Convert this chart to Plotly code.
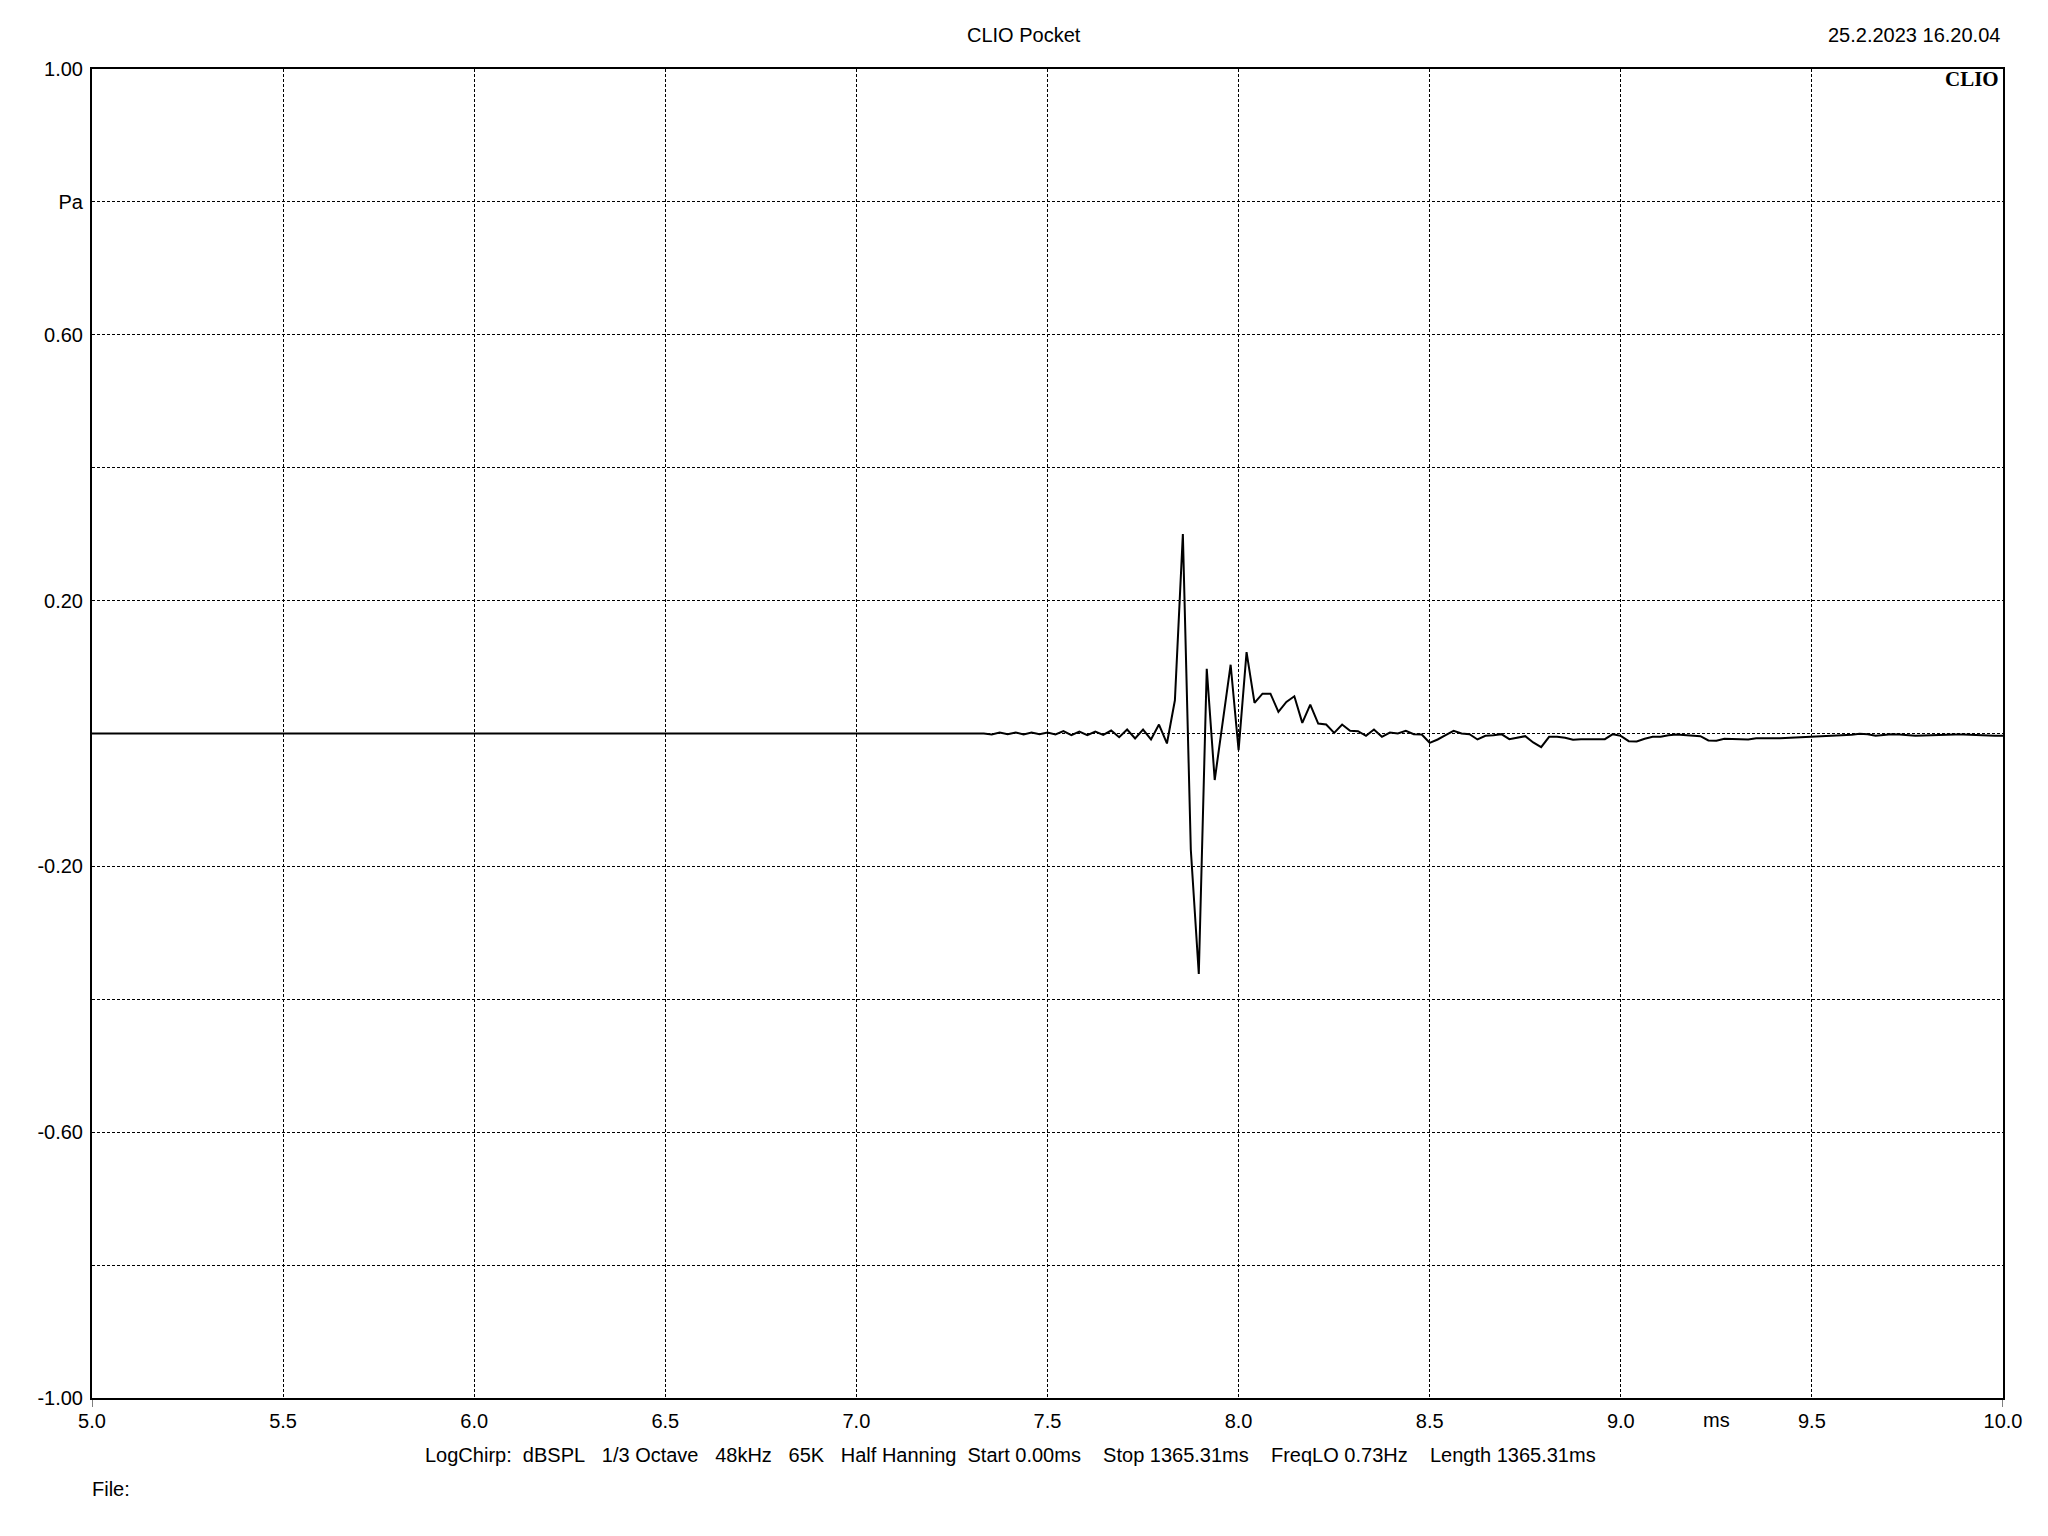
import plotly.graph_objects as go

# ---------------- data ----------------
FS_KHZ = 48.0                 # sample rate (samples per ms)
FIRST_SAMPLE = 352            # index of first sample shown after the flat lead-in
LEAD_IN_START_MS = 5.0        # flat (zero) segment starts here
LEAD_IN_VALUE = 0.0

# impulse response samples (Pa), from sample 352 (7.333 ms) to 480 (10.0 ms)
pressure_pa = [
    0.0, -0.0015, 0.0015, -0.001, 0.0015, -0.0015, 0.0015, -0.001, 0.0015, -0.0015,
    0.0035, -0.0025, 0.003, -0.0025, 0.003, -0.002, 0.0045, -0.0055, 0.006, -0.0075,
    0.006, -0.009, 0.0135, -0.015, 0.05, 0.30, -0.175, -0.362, 0.0975, -0.07,
    0.015, 0.1035, -0.025, 0.1225, 0.046, 0.06, 0.06, 0.0325, 0.0475, 0.056,
    0.016, 0.0436, 0.015, 0.0135, 0.001, 0.0135, 0.004, 0.0035, -0.0035, 0.006,
    -0.005, 0.0015, 0.0, 0.004, -0.001, -0.0015, -0.014, -0.009, -0.0025, 0.004,
    0.0, -0.001, -0.009, -0.0035, -0.0025, -0.001, -0.0085, -0.0065, -0.004, -0.0135,
    -0.0205, -0.005, -0.005, -0.0065, -0.0095, -0.0085, -0.0085, -0.0085, -0.0085, -0.001,
    -0.0035, -0.0115, -0.012, -0.008, -0.005, -0.005, -0.0025, -0.0015, -0.0025, -0.003,
    -0.004, -0.0105, -0.011, -0.008, -0.008, -0.009, -0.009, -0.007, -0.0065, -0.007,
    -0.007, -0.0065, -0.005, -0.0045, -0.004, -0.0035, -0.0035, -0.003, -0.003, -0.002,
    -0.0005, -0.001, -0.0035, -0.002, -0.001, -0.0015, -0.0025, -0.0035, -0.003, -0.0025,
    -0.0015, -0.0015, -0.0015, -0.0015, -0.002, -0.0035, -0.0035, -0.0035, -0.0035,
]

x_tick_vals = [5.0, 5.5, 6.0, 6.5, 7.0, 7.5, 8.0, 8.5, 9.0, 9.5, 10.0]
x_tick_text = ["5.0", "5.5", "6.0", "6.5", "7.0", "7.5", "8.0", "8.5", "9.0", "9.5", "10.0"]
y_tick_vals = [1.0, 0.8, 0.6, 0.4, 0.2, 0.0, -0.2, -0.4, -0.6, -0.8, -1.0]
y_tick_text = ["1.00", "Pa", "0.60", "", "0.20", "", "-0.20", "", "-0.60", "", "-1.00"]
x_range = [5.0, 10.0]
y_range = [-1.0, 1.0]
x_unit_label = "ms"
x_unit_pos = 9.25

title_text = "CLIO Pocket"
date_text = "25.2.2023 16.20.04"
logo_text = "CLIO"
NB = "&nbsp;"
info_parts = ["LogChirp:", "dBSPL", "1/3 Octave", "48kHz", "65K", "Half Hanning",
              "Start 0.00ms", "Stop 1365.31ms", "FreqLO 0.73Hz", "Length 1365.31ms"]
info_gaps = [2, 3, 3, 3, 3, 2, 4, 4, 4]
file_text = "File:"

# ---------------- build ----------------
times = [LEAD_IN_START_MS] + [(FIRST_SAMPLE + i) / FS_KHZ for i in range(len(pressure_pa))]
values = [LEAD_IN_VALUE] + pressure_pa

info_text = info_parts[0]
for g, p in zip(info_gaps, info_parts[1:]):
    info_text += NB * g + p

# page geometry (body has 8px margin)
W, H = 2032, 1520
ML, MR, MT, MB = 84, 37, 61, 130
PL, PR, PT, PB = 8 + ML, 8 + W - MR, 8 + MT, 8 + H - MB  # plot area in page px
PW, PH = PR - PL, PB - PT

def px(xp):
    return (xp - PL) / PW

def py(yp):
    return (PB - yp) / PH

FONT = "Liberation Sans, Arial, sans-serif"
FS = 20

fig = go.Figure()
fig.add_trace(go.Scatter(x=times, y=values, mode="lines",
                         line=dict(color="black", width=2), hoverinfo="skip",
                         showlegend=False))

fig.update_layout(
    width=W, height=H, autosize=False,
    margin=dict(l=ML, r=MR, t=MT, b=MB, pad=0),
    paper_bgcolor="white", plot_bgcolor="white",
    font=dict(family=FONT, size=FS, color="black"),
    showlegend=False,
    xaxis=dict(range=x_range, tickmode="array", tickvals=x_tick_vals, ticktext=x_tick_text,
               showgrid=True, gridcolor="black", gridwidth=1, griddash="3px,2px",
               zeroline=False, showline=True, linecolor="black", linewidth=2, mirror=True,
               ticks="", ticklabelstandoff=4, tickfont=dict(size=FS, family=FONT)),
    yaxis=dict(range=y_range, tickmode="array", tickvals=y_tick_vals, ticktext=y_tick_text,
               showgrid=True, gridcolor="black", gridwidth=1, griddash="3px,2px",
               zeroline=False, showline=True, linecolor="black", linewidth=2, mirror=True,
               ticks="", ticklabelstandoff=3, tickfont=dict(size=FS, family=FONT)),
)

# end ticks at 5.0 and 10.0 (axis lines extended below the frame)
for xv in (x_range[0], x_range[1]):
    fig.add_shape(type="line", xref="x", yref="paper", x0=xv, x1=xv, y0=0, y1=-9 / PH,
                  line=dict(color="black", width=1))

ann = []
ann.append(dict(text=title_text, xref="paper", yref="paper", x=px(1024), y=py(35),
                xanchor="center", yanchor="middle", showarrow=False, font=dict(size=FS)))
ann.append(dict(text=date_text, xref="paper", yref="paper", x=px(2002), y=py(35),
                xanchor="right", yanchor="middle", showarrow=False, font=dict(size=FS)))
ann.append(dict(text="<b>" + logo_text + "</b>", xref="paper", yref="paper", x=px(2001), y=py(79),
                xanchor="right", yanchor="middle", showarrow=False,
                font=dict(size=21, family="Liberation Serif, Times New Roman, serif")))
ann.append(dict(text=x_unit_label, xref="x", yref="paper", x=x_unit_pos, y=py(1420),
                xanchor="center", yanchor="middle", showarrow=False, font=dict(size=FS)))
ann.append(dict(text=info_text, xref="paper", yref="paper", x=px(423), y=py(1455),
                xanchor="left", yanchor="middle", showarrow=False, font=dict(size=FS)))
ann.append(dict(text=file_text, xref="paper", yref="paper", x=px(90), y=py(1489),
                xanchor="left", yanchor="middle", showarrow=False, font=dict(size=FS)))
fig.update_layout(annotations=ann)

fig.write_html("out.html")
